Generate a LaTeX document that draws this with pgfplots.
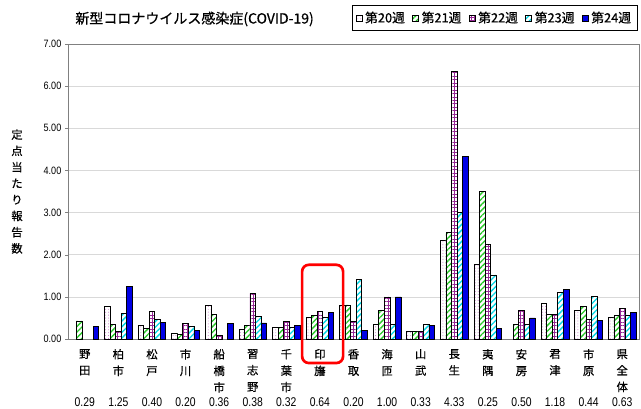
\documentclass[border=0pt]{standalone}
\usepackage{pgfplots}
\pgfplotsset{compat=1.18}
\usetikzlibrary{patterns.meta}
\usepackage{fontspec}
\setmainfont{Liberation Sans}
\newfontfamily\cjk{Noto Sans CJK JP}
\newfontfamily\cjkb[FakeBold=0.6]{Noto Sans CJK JP}
\definecolor{cg}{RGB}{40,200,40}
\definecolor{cc}{RGB}{0,215,230}
\definecolor{cb}{RGB}{0,0,230}
\definecolor{cp}{RGB}{150,40,150}
\definecolor{cd}{RGB}{190,100,190}
\begin{document}
\begin{tikzpicture}
\useasboundingbox (-51pt,-52.5pt) rectangle (429.75pt,254.25pt);
\begin{axis}[
  at={(0,0)}, anchor=south west,
  width=428.25pt, height=221.25pt, scale only axis,
  xmin=-0.5, xmax=16.5, ymin=0, ymax=7,
  ybar=0pt, bar width=0.165,
  clip=false,
  axis line style={gray},
  ytick={0,1,...,7},
  yticklabel style={font=\fontsize{8}{9}\selectfont, xscale=0.85, /pgf/number format/.cd, fixed, fixed zerofill, precision=2, assume math mode=true},
  ymajorgrids, grid style={gray!30},
  xtick={0,...,16},
  xticklabels={{野\\田},{柏\\市},{松\\戸},{市\\川},{船\\橋\\市},{習\\志\\野},{千\\葉\\市},{印\\旛},{香\\取},{海\\匝},{山\\武},{長\\生},{夷\\隅},{安\\房},{君\\津},{市\\原},{県\\全\\体}},
  xticklabel style={align=center, anchor=north, font=\cjkb\fontsize{8.5}{12.4}\selectfont, yshift=-2pt},
  major tick length=2pt,
  xtick style={draw=none},
  minor xtick={-0.5,0.5,...,16.5},
  minor tick length=3pt,
  minor x tick style={black},
  tick align=outside,
  tick pos=left,
  legend columns=5,
  legend style={at={(1,1)}, anchor=south east, yshift=9.75pt, xshift=-1pt, draw=black, line width=0.8pt,
    font=\cjkb\fontsize{9.6}{11}\selectfont, inner sep=2.5pt,
    /tikz/every even column/.append style={column sep=3.5pt}},
  legend image code/.code={\draw[#1, line width=0.5pt] (0cm,-0.08cm) rectangle (0.16cm,0.08cm);},
]
\addplot[draw=black, line width=0.5pt, fill=white, postaction={pattern={Dots[distance=2.2pt, radius=0.35pt]}, pattern color=cd}]
 coordinates {(1,0.77)(2,0.32)(3,0.13)(4,0.81)(5,0.24)(6,0.28)(7,0.51)(8,0.81)(9,0.35)(10,0.18)(11,2.35)(12,1.77)(14,0.85)(15,0.68)(16,0.52)};
\addplot[draw=black, line width=0.5pt, fill=white, postaction={pattern={Lines[angle=45, distance=3pt, line width=1pt]}, pattern color=cg}]
 coordinates {(0,0.43)(1,0.35)(2,0.26)(3,0.12)(4,0.59)(5,0.32)(6,0.28)(7,0.55)(8,0.81)(9,0.68)(10,0.18)(11,2.52)(12,3.51)(13,0.34)(14,0.59)(15,0.77)(16,0.55)};
\addplot[draw=black, line width=0.5pt, fill=white, postaction={pattern={Hatch[angle=0, distance=2.6pt, line width=0.7pt]}, pattern color=cp}]
 coordinates {(1,0.17)(2,0.66)(3,0.37)(4,0.08)(5,1.08)(6,0.42)(7,0.66)(8,0.41)(9,1.00)(10,0.18)(11,6.34)(12,2.25)(13,0.68)(14,0.59)(15,0.47)(16,0.72)};
\addplot[draw=black, line width=0.5pt, fill=white, postaction={pattern={Lines[angle=45, distance=3pt, line width=1pt]}, pattern color=cc}]
 coordinates {(1,0.60)(2,0.47)(3,0.30)(5,0.53)(6,0.28)(7,0.51)(8,1.42)(9,0.34)(10,0.34)(11,3.01)(12,1.52)(13,0.34)(14,1.11)(15,1.01)(16,0.57)};
\addplot[draw=black, line width=0.5pt, fill=cb]
 coordinates {(0,0.29)(1,1.25)(2,0.40)(3,0.20)(4,0.36)(5,0.38)(6,0.32)(7,0.64)(8,0.20)(9,1.00)(10,0.33)(11,4.33)(12,0.25)(13,0.50)(14,1.18)(15,0.44)(16,0.63)};
\legend{第20週,第21週,第22週,第23週,第24週}
\node[anchor=west, font=\cjkb\fontsize{10.5}{12}\selectfont] at (rel axis cs:0,1) [xshift=2pt, yshift=18.75pt] {新型コロナウイルス感染症(COVID-19)};
\node[align=center, font=\cjkb\fontsize{8.5}{12.2}\selectfont] at (rel axis cs:0,0.5) [xshift=-38.25pt] {定\\点\\当\\た\\り\\報\\告\\数};
\draw[red, line width=2pt, rounded corners=5pt] (axis cs:6.47,1.76) rectangle (axis cs:7.69,-0.57);
\foreach \i/\v in {0/0.29,1/1.25,2/0.40,3/0.20,4/0.36,5/0.38,6/0.32,7/0.64,8/0.20,9/1.00,10/0.33,11/4.33,12/0.25,13/0.50,14/1.18,15/0.44,16/0.63} {
  \edef\tmp{\noexpand\node[font=\noexpand\fontsize{9.5}{11}\noexpand\selectfont, xscale=0.82, anchor=base, inner sep=0pt] at (axis cs:\i,0) [yshift=-50.5pt] {\v};}
  \tmp
}
\end{axis}
\end{tikzpicture}
\end{document}
